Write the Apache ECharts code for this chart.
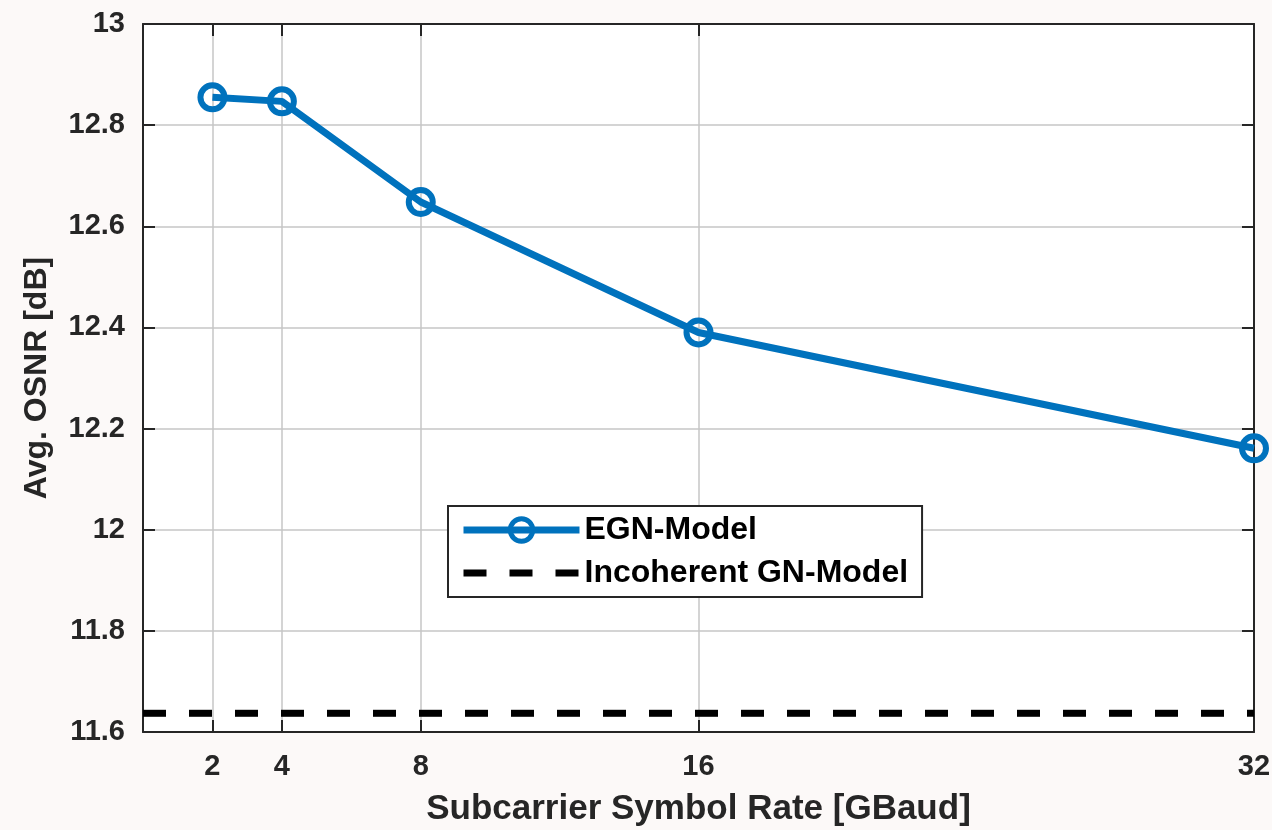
<!DOCTYPE html>
<html>
<head>
<meta charset="utf-8">
<script src="https://cdn.jsdelivr.net/npm/echarts@6/dist/echarts.min.js"></script>
<style>
html,body{margin:0;padding:0;background:#fcf9f8;}
#chart{width:1272px;height:830px;}
</style>
</head>
<body>
<div id="chart"></div>
<script>
const symbolRates = [2, 4, 8, 16, 32];
const egnOsnr = [12.855, 12.847, 12.648, 12.390, 12.161];
const gnX = [0, 32];
const gnOsnr = [11.637, 11.637];
const xTicks = [2, 4, 8, 16, 32];
const yTicks = [11.6, 11.8, 12, 12.2, 12.4, 12.6, 12.8, 13];

const chart = echarts.init(document.getElementById('chart'));
const axisColor = '#262626';
const font = 'Liberation Sans, Arial, sans-serif';
const gridColor = '#c6c6c6';

chart.setOption({
  backgroundColor: '#fcf9f8',
  animation: false,
  grid: { left: 143, right: 18, top: 24, bottom: 98, outerBoundsMode: 'none', containLabel: false,
    show: true, backgroundColor: '#ffffff', borderWidth: 0 },
  xAxis: [{
    type: 'value', min: 0, max: 32,
    name: 'Subcarrier Symbol Rate [GBaud]', nameLocation: 'middle', nameGap: 60,
    nameTextStyle: { fontFamily: font, fontWeight: 'bold', fontSize: 35, color: axisColor },
    axisLine: { show: true, lineStyle: { color: axisColor, width: 2 } },
    axisTick: { show: true, inside: true, length: 12, customValues: xTicks, lineStyle: { color: axisColor, width: 2 } },
    axisLabel: { customValues: xTicks, margin: 20, fontFamily: font, fontWeight: 'bold', fontSize: 29, color: axisColor },
    splitLine: { show: true, lineStyle: { color: gridColor, width: 1.5 } }
  }, {
    type: 'value', min: 0, max: 32, position: 'top',
    axisLine: { show: true, onZero: false, lineStyle: { color: axisColor, width: 2 } },
    axisTick: { show: true, inside: true, length: 12, customValues: xTicks, lineStyle: { color: axisColor, width: 2 } },
    axisLabel: { show: false },
    splitLine: { show: false }
  }],
  yAxis: [{
    type: 'value', min: 11.6, max: 13, interval: 0.2,
    name: 'Avg. OSNR [dB]', nameLocation: 'middle', nameGap: 90,
    nameTextStyle: { fontFamily: font, fontWeight: 'bold', fontSize: 32, color: axisColor },
    axisLine: { show: true, lineStyle: { color: axisColor, width: 2 } },
    axisTick: { show: true, inside: true, length: 12, lineStyle: { color: axisColor, width: 2 } },
    axisLabel: { margin: 18, fontFamily: font, fontWeight: 'bold', fontSize: 29, color: axisColor,
      formatter: v => String(Math.round(v * 10) / 10) },
    splitLine: { show: true, lineStyle: { color: gridColor, width: 1.5 } }
  }, {
    type: 'value', min: 11.6, max: 13, interval: 0.2, position: 'right',
    axisLine: { show: true, onZero: false, lineStyle: { color: axisColor, width: 2 } },
    axisTick: { show: true, inside: true, length: 12, lineStyle: { color: axisColor, width: 2 } },
    axisLabel: { show: false },
    splitLine: { show: false }
  }],
  legend: {
    left: 448, top: 506, orient: 'vertical',
    backgroundColor: '#ffffff', borderColor: axisColor, borderWidth: 2, borderRadius: 0,
    padding: [8, 14, 8, 12], itemWidth: 116, itemHeight: 28, itemGap: 11,
    textStyle: { fontFamily: font, fontWeight: 'bold', fontSize: 32, lineHeight: 32, color: '#000000', padding: [0, 0, 0, 0] },
    data: [
      { name: 'EGN-Model', lineStyle: { width: 7 }, itemStyle: { borderWidth: 5 } },
      { name: 'Incoherent GN-Model', lineStyle: { width: 7, type: [23, 23] }, itemStyle: { opacity: 0 } }
    ]
  },
  series: [{
    name: 'Incoherent GN-Model', type: 'line',
    data: gnX.map((x, i) => [x, gnOsnr[i]]),
    showSymbol: false, symbol: 'none',
    lineStyle: { color: '#000000', width: 7, type: [23, 23] },
    itemStyle: { color: '#000000' },
    z: 3
  }, {
    name: 'EGN-Model', type: 'line',
    data: symbolRates.map((x, i) => [x, egnOsnr[i]]),
    symbol: 'circle', symbolSize: 24,
    lineStyle: { color: '#0072BD', width: 7 },
    itemStyle: { color: 'rgba(255,255,255,0)', borderColor: '#0072BD', borderWidth: 6 },
    z: 4
  }]
});
</script>
</body>
</html>
